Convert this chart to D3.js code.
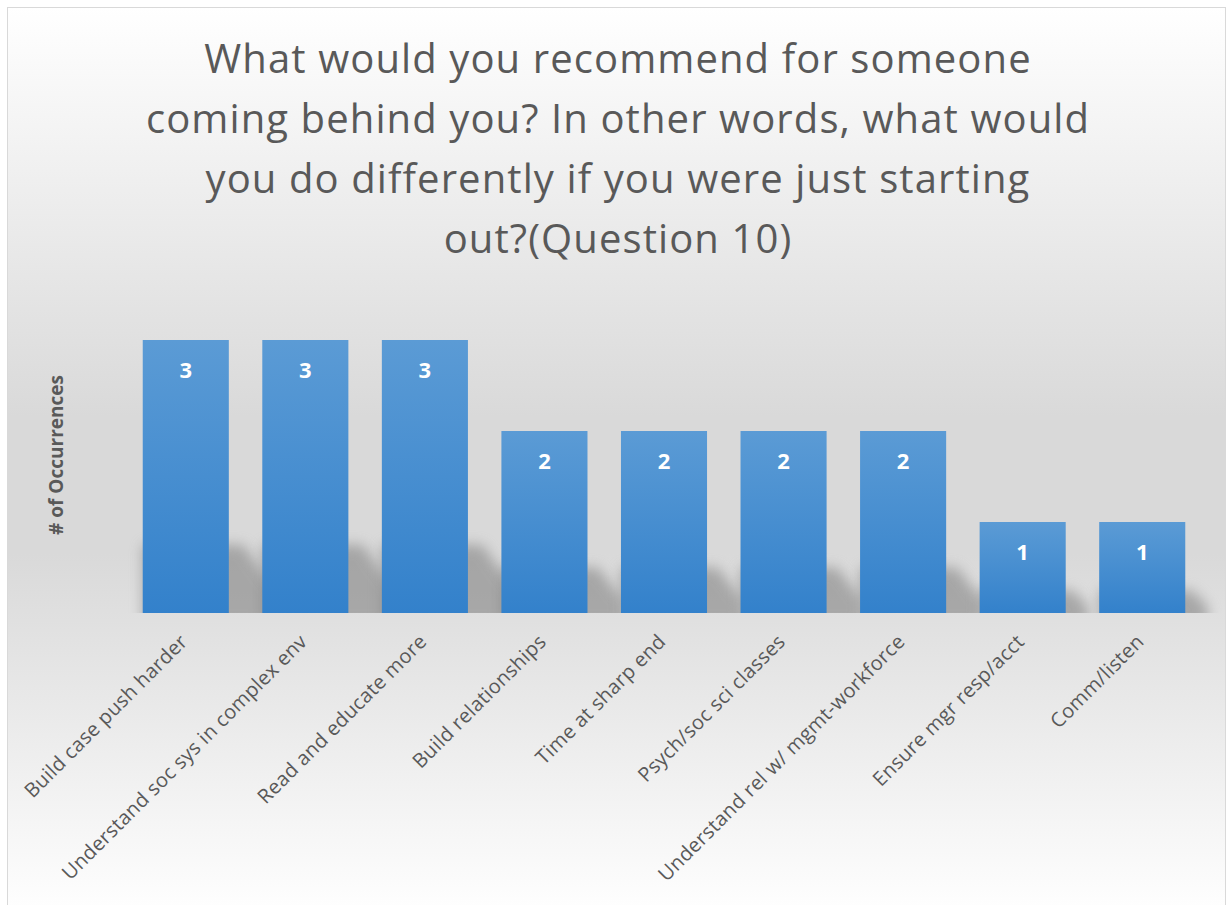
<!DOCTYPE html>
<html>
<head>
<meta charset="utf-8">
<script src="https://cdn.jsdelivr.net/npm/d3@7"></script>
<style>
  body { margin: 0; background: #fff; }
  svg { display: block; font-family: "Open Sans", sans-serif; }
</style>
</head>
<body>
<svg id="Target" width="1228" height="905"></svg>
<script>
const categories = [
    "Build case push harder",
    "Understand soc sys in complex env",
    "Read and educate more",
    "Build relationships",
    "Time at sharp end",
    "Psych/soc sci classes",
    "Understand rel w/ mgmt-workforce",
    "Ensure mgr resp/acct",
    "Comm/listen"
];
const occurrences = [3, 3, 3, 2, 2, 2, 2, 1, 1];
const titleLines = [
    "What would you recommend for someone",
    "coming behind you? In other words, what would",
    "you do differently if you were just starting",
    "out?(Question 10)"
];
const yTitle = "# of Occurrences";

const [width, height] = [1228, 905];
const base = 613;
const textColor = "#595959";

const svg = d3.select("#Target");
const defs = svg.append("defs");

// chart background: white -> gray -> white
const bg = defs.append("linearGradient")
    .attr("id", "bg").attr("x1", 0).attr("y1", 0).attr("x2", 0).attr("y2", 1);
bg.append("stop").attr("offset", "0%").attr("stop-color", "#ffffff");
bg.append("stop").attr("offset", "45%").attr("stop-color", "#d9d9d9");
bg.append("stop").attr("offset", "60%").attr("stop-color", "#d9d9d9");
bg.append("stop").attr("offset", "100%").attr("stop-color", "#ffffff");

const barFill = defs.append("linearGradient")
    .attr("id", "barFill").attr("x1", 0).attr("y1", 0).attr("x2", 0).attr("y2", 1);
barFill.append("stop").attr("offset", "0%").attr("stop-color", "#5b9bd5");
barFill.append("stop").attr("offset", "100%").attr("stop-color", "#3381cb");

defs.append("filter").attr("id", "blur")
    .attr("x", "-50%").attr("y", "-50%").attr("width", "200%").attr("height", "200%")
    .append("feGaussianBlur").attr("stdDeviation", 6.5);

defs.append("clipPath").attr("id", "aboveBase")
    .append("rect").attr("x", 0).attr("y", 0).attr("width", width).attr("height", base);

svg.append("rect")
    .attr("x", 7.5).attr("y", 7.5)
    .attr("width", 1218).attr("height", 910)
    .attr("fill", "url(#bg)")
    .attr("stroke", "#d9d9d9")
    .attr("stroke-width", 1);

const x = d3.scaleBand()
    .domain(categories)
    .range([126, 1202])
    .paddingInner(0.28)
    .paddingOuter(0.14);

const y = d3.scaleLinear()
    .domain([0, 3])
    .range([base, 340]);

// soft shadows cast behind the bars
svg.append("g")
    .attr("clip-path", "url(#aboveBase)")
    .selectAll("path")
    .data(categories)
    .join("path")
    .attr("d", (d, i) => {
        const h = base - y(occurrences[i]);
        const x0 = x(d), x1 = x(d) + x.bandwidth();
        const e = 10 + h * 0.14;
        const sh = h * 0.25;
        return `M${x0},${base + 12}L${x1 + e},${base + 12}L${x1 + e},${base - sh * 0.3}`
            + `L${x1 + e * 0.3},${base - sh}L${x0},${base - sh}Z`;
    })
    .attr("fill", "#8a8a8a")
    .attr("opacity", 0.65)
    .attr("filter", "url(#blur)");

svg.append("g")
    .selectAll("rect")
    .data(categories)
    .join("rect")
    .attr("x", d => x(d))
    .attr("y", (d, i) => y(occurrences[i]))
    .attr("width", x.bandwidth())
    .attr("height", (d, i) => base - y(occurrences[i]))
    .attr("fill", "url(#barFill)");

svg.append("g")
    .selectAll("text")
    .data(categories)
    .join("text")
    .attr("x", d => x(d) + x.bandwidth() / 2)
    .attr("y", (d, i) => y(occurrences[i]) + 38)
    .attr("text-anchor", "middle")
    .attr("font-size", 22)
    .attr("font-weight", "bold")
    .attr("fill", "#ffffff")
    .text((d, i) => occurrences[i]);

// x axis labels, no line or ticks
const xAxis = svg.append("g")
    .attr("transform", `translate(0,${base})`)
    .call(d3.axisBottom(x).tickSize(0).tickPadding(0));
xAxis.select(".domain").remove();
xAxis.selectAll("text")
    .attr("font-family", "Open Sans, sans-serif")
    .attr("font-size", 20)
    .attr("letter-spacing", 0.3)
    .attr("fill", textColor)
    .attr("text-anchor", "end")
    .attr("dy", "0.35em")
    .attr("transform", "translate(-2,25) rotate(-45)");

svg.append("text")
    .attr("transform", "translate(63,455) rotate(-90)")
    .attr("text-anchor", "middle")
    .attr("font-size", 19)
    .attr("font-weight", "bold")
    .attr("fill", textColor)
    .text(yTitle);

svg.append("g")
    .selectAll("text")
    .data(titleLines)
    .join("text")
    .attr("x", 618)
    .attr("y", (d, i) => 73 + i * 60)
    .attr("text-anchor", "middle")
    .attr("font-size", 40)
    .attr("letter-spacing", 1.1)
    .attr("fill", textColor)
    .text(d => d);
</script>
</body>
</html>
